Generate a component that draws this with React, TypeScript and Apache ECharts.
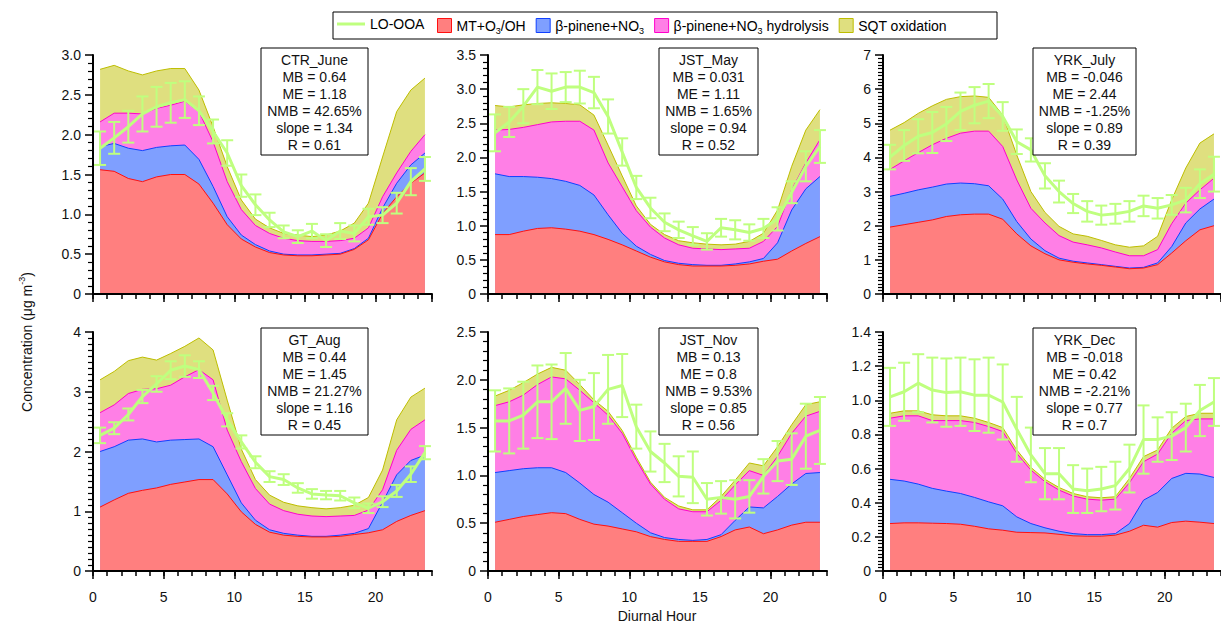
import React, { useEffect, useRef } from "react";
import * as echarts from "echarts";

const hours = [0.5, 1.5, 2.5, 3.5, 4.5, 5.5, 6.5, 7.5, 8.5, 9.5, 10.5, 11.5, 12.5, 13.5, 14.5, 15.5, 16.5, 17.5, 18.5, 19.5, 20.5, 21.5, 22.5, 23.5];

const seriesNames = ["LO-OOA", "MT+O3/OH", "β-pinene+NO3", "β-pinene+NO3 hydrolysis", "SQT oxidation"];

// CTR_June
const ctrJuneMT = [1.56, 1.54, 1.45, 1.41, 1.47, 1.5, 1.5, 1.38, 1.14, 0.87, 0.69, 0.59, 0.52, 0.49, 0.48, 0.48, 0.49, 0.5, 0.56, 0.68, 1.01, 1.22, 1.39, 1.52];
const ctrJuneNO3 = [0.29, 0.35, 0.38, 0.39, 0.37, 0.36, 0.37, 0.31, 0.21, 0.1, 0.05, 0.03, 0.02, 0.01, 0.01, 0.01, 0.01, 0.01, 0.01, 0.02, 0.07, 0.17, 0.23, 0.25];
const ctrJuneHyd = [0.31, 0.38, 0.44, 0.46, 0.49, 0.51, 0.55, 0.6, 0.56, 0.44, 0.32, 0.24, 0.22, 0.2, 0.18, 0.17, 0.16, 0.16, 0.13, 0.13, 0.14, 0.13, 0.17, 0.23];
const ctrJuneSQT = [0.66, 0.6, 0.53, 0.49, 0.47, 0.46, 0.41, 0.27, 0.19, 0.19, 0.12, 0.08, 0.07, 0.06, 0.07, 0.06, 0.08, 0.12, 0.19, 0.31, 0.5, 0.77, 0.77, 0.71];
const ctrJuneOOA = [1.83, 1.96, 2.1, 2.26, 2.35, 2.4, 2.44, 2.3, 2.04, 1.77, 1.36, 1.12, 0.93, 0.78, 0.72, 0.79, 0.67, 0.79, 0.76, 0.97, 0.99, 1.14, 1.41, 1.57];
const ctrJuneErr = [0.21, 0.2, 0.2, 0.22, 0.25, 0.25, 0.23, 0.18, 0.15, 0.16, 0.14, 0.13, 0.09, 0.08, 0.08, 0.09, 0.08, 0.1, 0.1, 0.1, 0.1, 0.13, 0.17, 0.15];

// JST_May
const jstMayMT = [0.87, 0.87, 0.92, 0.96, 0.97, 0.95, 0.92, 0.87, 0.8, 0.72, 0.63, 0.54, 0.47, 0.43, 0.41, 0.41, 0.41, 0.42, 0.44, 0.48, 0.51, 0.63, 0.74, 0.84];
const jstMayNO3 = [0.89, 0.85, 0.8, 0.75, 0.72, 0.7, 0.67, 0.58, 0.36, 0.17, 0.07, 0.04, 0.02, 0.02, 0.02, 0.01, 0.01, 0.02, 0.03, 0.04, 0.24, 0.6, 0.8, 0.88];
const jstMayHyd = [0.64, 0.69, 0.72, 0.77, 0.83, 0.88, 0.94, 0.95, 0.76, 0.68, 0.52, 0.4, 0.33, 0.27, 0.24, 0.24, 0.23, 0.22, 0.2, 0.25, 0.24, 0.3, 0.38, 0.54];
const jstMaySQT = [0.36, 0.33, 0.33, 0.31, 0.28, 0.26, 0.24, 0.22, 0.26, 0.16, 0.07, 0.04, 0.05, 0.06, 0.08, 0.07, 0.07, 0.07, 0.1, 0.12, 0.24, 0.34, 0.48, 0.44];
const jstMayOOA = [2.36, 2.52, 2.75, 3.03, 2.97, 3.03, 3.03, 2.95, 2.6, 2.08, 1.56, 1.26, 1.05, 0.94, 0.85, 0.77, 0.97, 0.94, 0.9, 0.96, 1.1, 1.49, 1.87, 2.16];
const jstMayErr = [0.27, 0.22, 0.25, 0.25, 0.26, 0.22, 0.24, 0.23, 0.25, 0.2, 0.17, 0.15, 0.13, 0.12, 0.13, 0.12, 0.13, 0.14, 0.12, 0.14, 0.17, 0.16, 0.22, 0.24];

// YRK_July
const yrkJulyMT = [1.96, 2.03, 2.1, 2.17, 2.27, 2.32, 2.34, 2.34, 2.19, 1.76, 1.41, 1.18, 1.0, 0.93, 0.88, 0.84, 0.79, 0.74, 0.76, 0.86, 1.2, 1.56, 1.88, 2.0];
const yrkJulyNO3 = [0.9, 0.92, 0.95, 0.96, 0.95, 0.93, 0.89, 0.83, 0.59, 0.36, 0.2, 0.09, 0.05, 0.03, 0.03, 0.02, 0.02, 0.02, 0.02, 0.05, 0.19, 0.52, 0.61, 0.78];
const yrkJulyHyd = [0.79, 0.95, 1.09, 1.24, 1.34, 1.46, 1.54, 1.6, 1.54, 1.22, 0.9, 0.81, 0.66, 0.56, 0.53, 0.49, 0.42, 0.36, 0.34, 0.39, 0.67, 0.58, 0.56, 0.61];
const yrkJulySQT = [1.15, 1.12, 1.15, 1.14, 1.14, 1.07, 1.03, 0.99, 0.92, 0.73, 0.49, 0.31, 0.27, 0.24, 0.25, 0.22, 0.21, 0.25, 0.29, 0.39, 0.7, 1.03, 1.37, 1.3];
const yrkJulyOOA = [4.01, 4.35, 4.62, 4.73, 4.98, 5.35, 5.53, 5.65, 5.2, 4.46, 4.22, 3.46, 3.0, 2.65, 2.42, 2.31, 2.35, 2.42, 2.58, 2.51, 2.61, 2.75, 3.23, 3.51];
const yrkJulyErr = [0.36, 0.45, 0.5, 0.6, 0.5, 0.55, 0.53, 0.5, 0.42, 0.36, 0.34, 0.37, 0.32, 0.28, 0.3, 0.28, 0.29, 0.3, 0.3, 0.3, 0.29, 0.36, 0.42, 0.51];

// GT_Aug
const gtAugMT = [1.07, 1.19, 1.3, 1.35, 1.39, 1.45, 1.49, 1.53, 1.53, 1.29, 0.99, 0.78, 0.65, 0.6, 0.58, 0.57, 0.57, 0.58, 0.61, 0.64, 0.69, 0.83, 0.93, 1.01];
const gtAugNO3 = [0.93, 0.89, 0.89, 0.86, 0.77, 0.74, 0.71, 0.68, 0.55, 0.32, 0.15, 0.07, 0.04, 0.03, 0.02, 0.01, 0.01, 0.02, 0.02, 0.07, 0.46, 0.78, 0.92, 0.93];
const gtAugHyd = [0.65, 0.7, 0.78, 0.83, 0.89, 0.92, 1.05, 1.16, 1.12, 0.75, 0.69, 0.53, 0.43, 0.38, 0.35, 0.34, 0.33, 0.32, 0.3, 0.31, 0.21, 0.41, 0.52, 0.59];
const gtAugSQT = [0.55, 0.56, 0.55, 0.54, 0.48, 0.53, 0.51, 0.53, 0.5, 0.5, 0.21, 0.15, 0.15, 0.14, 0.14, 0.14, 0.13, 0.14, 0.17, 0.21, 0.33, 0.51, 0.54, 0.53];
const gtAugOOA = [2.27, 2.39, 2.62, 2.92, 3.13, 3.36, 3.43, 3.37, 2.98, 2.53, 2.16, 1.82, 1.58, 1.53, 1.39, 1.29, 1.27, 1.26, 1.14, 1.05, 1.16, 1.34, 1.62, 1.98];
const gtAugErr = [0.13, 0.1, 0.1, 0.11, 0.13, 0.15, 0.18, 0.14, 0.12, 0.11, 0.11, 0.1, 0.09, 0.09, 0.08, 0.08, 0.07, 0.08, 0.09, 0.08, 0.09, 0.1, 0.13, 0.11];

// JST_Nov
const jstNovMT = [0.51, 0.54, 0.57, 0.59, 0.61, 0.6, 0.54, 0.49, 0.47, 0.44, 0.41, 0.36, 0.33, 0.31, 0.31, 0.31, 0.36, 0.43, 0.46, 0.39, 0.43, 0.48, 0.51, 0.51];
const jstNovNO3 = [0.52, 0.51, 0.5, 0.49, 0.47, 0.43, 0.38, 0.31, 0.25, 0.17, 0.09, 0.04, 0.02, 0.02, 0.01, 0.02, 0.02, 0.1, 0.21, 0.27, 0.35, 0.43, 0.51, 0.52];
const jstNovHyd = [0.7, 0.72, 0.77, 0.87, 0.95, 0.98, 0.97, 0.96, 0.91, 0.83, 0.66, 0.51, 0.4, 0.32, 0.3, 0.29, 0.36, 0.37, 0.38, 0.34, 0.42, 0.53, 0.6, 0.64];
const jstNovSQT = [0.1, 0.12, 0.13, 0.11, 0.1, 0.09, 0.06, 0.03, 0.04, 0.03, 0.03, 0.02, 0.02, 0.03, 0.02, 0.02, 0.04, 0.05, 0.08, 0.1, 0.1, 0.09, 0.12, 0.1];
const jstNovOOA = [1.57, 1.57, 1.63, 1.77, 1.77, 1.91, 1.68, 1.72, 1.9, 1.94, 1.51, 1.25, 1.13, 0.99, 0.98, 0.75, 0.77, 0.75, 0.78, 0.99, 1.15, 1.17, 1.41, 1.47];
const jstNovErr = [0.32, 0.34, 0.35, 0.38, 0.39, 0.37, 0.32, 0.35, 0.36, 0.33, 0.23, 0.21, 0.2, 0.21, 0.27, 0.17, 0.17, 0.2, 0.17, 0.18, 0.21, 0.27, 0.34, 0.35];

// YRK_Dec
const yrkDecMT = [0.278, 0.282, 0.282, 0.28, 0.278, 0.274, 0.262, 0.247, 0.239, 0.227, 0.225, 0.223, 0.215, 0.206, 0.204, 0.204, 0.21, 0.233, 0.268, 0.257, 0.284, 0.292, 0.286, 0.278];
const yrkDecNO3 = [0.259, 0.245, 0.227, 0.204, 0.19, 0.18, 0.169, 0.158, 0.143, 0.09, 0.053, 0.03, 0.018, 0.013, 0.009, 0.009, 0.009, 0.045, 0.147, 0.203, 0.258, 0.28, 0.282, 0.27];
const yrkDecHyd = [0.358, 0.382, 0.4, 0.397, 0.413, 0.427, 0.439, 0.441, 0.435, 0.372, 0.313, 0.27, 0.241, 0.22, 0.208, 0.202, 0.202, 0.239, 0.225, 0.225, 0.265, 0.309, 0.323, 0.343];
const yrkDecSQT = [0.029, 0.029, 0.029, 0.034, 0.028, 0.028, 0.025, 0.024, 0.023, 0.02, 0.016, 0.014, 0.015, 0.015, 0.014, 0.014, 0.014, 0.025, 0.03, 0.024, 0.029, 0.024, 0.033, 0.033];
const yrkDecOOA = [1.02, 1.05, 1.1, 1.06, 1.045, 1.05, 1.03, 1.03, 0.99, 0.83, 0.68, 0.57, 0.57, 0.48, 0.47, 0.48, 0.5, 0.6, 0.77, 0.77, 0.79, 0.84, 0.94, 0.99];
const yrkDecErr = [0.17, 0.17, 0.17, 0.19, 0.2, 0.2, 0.21, 0.22, 0.22, 0.19, 0.16, 0.15, 0.15, 0.14, 0.13, 0.13, 0.14, 0.14, 0.2, 0.13, 0.14, 0.14, 0.15, 0.14];

const statsCTR = ["CTR_June", "MB = 0.64", "ME = 1.18", "NMB = 42.65%", "slope = 1.34", "R = 0.61"];
const statsJSTMay = ["JST_May", "MB = 0.031", "ME = 1.11", "NMB = 1.65%", "slope = 0.94", "R = 0.52"];
const statsYRKJuly = ["YRK_July", "MB = -0.046", "ME = 2.44", "NMB = -1.25%", "slope = 0.89", "R = 0.39"];
const statsGT = ["GT_Aug", "MB = 0.44", "ME = 1.45", "NMB = 21.27%", "slope = 1.16", "R = 0.45"];
const statsJSTNov = ["JST_Nov", "MB = 0.13", "ME = 0.8", "NMB = 9.53%", "slope = 0.85", "R = 0.56"];
const statsYRKDec = ["YRK_Dec", "MB = -0.018", "ME = 0.42", "NMB = -2.21%", "slope = 0.77", "R = 0.7"];

// y-axis: max, interval, minor splits, decimals of tick labels
const yMax = [3, 3.5, 7, 4, 2.5, 1.4];
const yInterval = [0.5, 0.5, 1, 1, 0.5, 0.2];
const yMinorSplit = [5, 5, 10, 10, 5, 10];
const yDecimals = [1, 1, 0, 0, 1, 1];

const panels = [
  { stats: statsCTR, mt: ctrJuneMT, no3: ctrJuneNO3, hyd: ctrJuneHyd, sqt: ctrJuneSQT, ooa: ctrJuneOOA, err: ctrJuneErr },
  { stats: statsJSTMay, mt: jstMayMT, no3: jstMayNO3, hyd: jstMayHyd, sqt: jstMaySQT, ooa: jstMayOOA, err: jstMayErr },
  { stats: statsYRKJuly, mt: yrkJulyMT, no3: yrkJulyNO3, hyd: yrkJulyHyd, sqt: yrkJulySQT, ooa: yrkJulyOOA, err: yrkJulyErr },
  { stats: statsGT, mt: gtAugMT, no3: gtAugNO3, hyd: gtAugHyd, sqt: gtAugSQT, ooa: gtAugOOA, err: gtAugErr },
  { stats: statsJSTNov, mt: jstNovMT, no3: jstNovNO3, hyd: jstNovHyd, sqt: jstNovSQT, ooa: jstNovOOA, err: jstNovErr },
  { stats: statsYRKDec, mt: yrkDecMT, no3: yrkDecNO3, hyd: yrkDecHyd, sqt: yrkDecSQT, ooa: yrkDecOOA, err: yrkDecErr },
];

const FONT = '"Liberation Sans", Arial, Helvetica, sans-serif';
const TXT = "#111";
const OOA_COLOR = "#BFFF7F";
const LAYERS = [
  { key: "mt", name: seriesNames[1], fill: "#FF7F7F", line: "#FF1010" },
  { key: "no3", name: seriesNames[2], fill: "#7F9FFF", line: "#1040FF" },
  { key: "hyd", name: seriesNames[3], fill: "#FF7FE6", line: "#FF00CC" },
  { key: "sqt", name: seriesNames[4], fill: "#DFDF7F", line: "#BDBD00" },
];

const colLeft = [93, 488, 883];
const colBoxLeft = [261, 659, 1033];
const colBoxWidth = [107, 99, 103];
const rowTop = [55, 332];
const rowHeight = [239, 239];
const rowBoxTop = [48, 328];
const GRID_W = 339;

function buildOption() {
  const grid: any[] = [];
  const xAxis: any[] = [];
  const yAxis: any[] = [];
  const series: any[] = [];
  const graphic: any[] = [];

  panels.forEach((p: any, i: number) => {
    const row = Math.floor(i / 3);
    const col = i % 3;
    grid.push({ left: colLeft[col], top: rowTop[row], width: GRID_W, height: rowHeight[row], containLabel: false });
    xAxis.push({
      type: "value", gridIndex: i, min: 0, max: 24, interval: 5, position: "bottom",
      axisLine: { show: true, onZero: false, lineStyle: { color: "#000", width: 2 } },
      axisTick: { show: true, length: 8, lineStyle: { color: "#000", width: 1.5 } },
      axisLabel: { show: row === 1, margin: 19, fontSize: 14, color: TXT, fontFamily: FONT, showMaxLabel: false },
      splitLine: { show: false },
      z: 10,
    });
    xAxis.push({
      type: "value", gridIndex: i, min: 0, max: 24, interval: 1, position: "bottom",
      axisLine: { show: false, onZero: false },
      axisTick: { show: true, length: 5, lineStyle: { color: "#000", width: 1.5 } },
      axisLabel: { show: false },
      splitLine: { show: false },
      z: 10,
    });
    const dec = yDecimals[i];
    yAxis.push({
      type: "value", gridIndex: i, min: 0, max: yMax[i], interval: yInterval[i],
      axisLine: { show: true, onZero: false, lineStyle: { color: "#000", width: 2 } },
      axisTick: { show: true, length: 8, lineStyle: { color: "#000", width: 1.5 } },
      minorTick: { show: true, splitNumber: yMinorSplit[i], length: 5, lineStyle: { color: "#000", width: 1.2 } },
      axisLabel: {
        margin: 12, fontSize: 14, color: TXT, fontFamily: FONT,
        formatter: (v: number) => (Math.abs(v) < 1e-9 ? "0" : v.toFixed(dec)),
      },
      splitLine: { show: false },
      minorSplitLine: { show: false },
      z: 10,
    });

    // cumulative tops of the stacked layers
    const cum: number[][] = [];
    LAYERS.forEach((L, li) => {
      cum.push(hours.map((_, k) => (li > 0 ? cum[li - 1][k] : 0) + p[L.key][k]));
    });
    // draw the highest layer first, opaque fills, lower layers drawn on top
    for (let li = LAYERS.length - 1; li >= 0; li--) {
      const L = LAYERS[li];
      series.push({
        type: "line", name: L.name, xAxisIndex: 2 * i, yAxisIndex: i,
        data: hours.map((h, k) => [h, cum[li][k]]),
        symbol: "none", silent: true, z: 2,
        lineStyle: { color: L.line, width: 1 },
        itemStyle: { color: L.fill },
        areaStyle: { color: L.fill, opacity: 1, origin: "start" },
        emphasis: { disabled: true },
      });
    }

    series.push({
      type: "custom", name: seriesNames[0], xAxisIndex: 2 * i, yAxisIndex: i, z: 4, silent: true,
      data: hours.map((h, k) => [h, p.ooa[k] - p.err[k], p.ooa[k] + p.err[k]]),
      encode: { x: 0, y: [1, 2] },
      renderItem: (params: any, api: any) => {
        const x = api.value(0);
        const top = api.coord([x, api.value(2)]);
        const bot = api.coord([x, api.value(1)]);
        const w = 6;
        const st = { stroke: OOA_COLOR, lineWidth: 2 };
        return {
          type: "group",
          children: [
            { type: "line", shape: { x1: top[0], y1: top[1], x2: bot[0], y2: bot[1] }, style: st },
            { type: "line", shape: { x1: top[0] - w, y1: top[1], x2: top[0] + w, y2: top[1] }, style: st },
            { type: "line", shape: { x1: bot[0] - w, y1: bot[1], x2: bot[0] + w, y2: bot[1] }, style: st },
          ],
        };
      },
    });

    series.push({
      type: "line", name: seriesNames[0], xAxisIndex: 2 * i, yAxisIndex: i, z: 5,
      data: hours.map((h, k) => [h, p.ooa[k]]),
      symbol: "none", silent: true,
      lineStyle: { color: OOA_COLOR, width: 3 },
      itemStyle: { color: OOA_COLOR },
      emphasis: { disabled: true },
    });

    const bx = colBoxLeft[col];
    const bw = colBoxWidth[col];
    const by = rowBoxTop[row];
    graphic.push({
      type: "group", z: 100,
      children: [
        { type: "rect", shape: { x: bx, y: by, width: bw, height: 107 }, style: { fill: "#fff", stroke: "#000", lineWidth: 1 }, z: 100 },
        {
          type: "text", x: bx + bw / 2, y: by + 3, z: 101,
          style: { text: p.stats.join("\n"), align: "center", verticalAlign: "top", fontSize: 14, lineHeight: 17, fontFamily: FONT, fill: TXT },
        },
      ],
    });
  });

  graphic.push({ type: "rect", shape: { x: 333, y: 12, width: 664, height: 27 }, style: { fill: "none", stroke: "#000", lineWidth: 1 }, z: 0 });
  graphic.push({
    type: "text", x: 27, y: 342, rotation: Math.PI / 2, z: 10,
    style: {
      text: "Concentration (μg m{sup|-3})", align: "center", verticalAlign: "middle",
      fontSize: 14, fontFamily: FONT, fill: TXT,
      rich: { sup: { fontSize: 9, lineHeight: 9, padding: [0, 0, 10, 0], fontFamily: FONT, fill: TXT } },
    },
  });
  graphic.push({
    type: "text", x: 657, y: 616, z: 10,
    style: { text: "Diurnal Hour", align: "center", verticalAlign: "middle", fontSize: 14, fontFamily: FONT, fill: TXT },
  });

  const legendText = {
    fontSize: 14, fontFamily: FONT, color: "#000", lineHeight: 16,
    rich: { s: { fontSize: 9, lineHeight: 9, padding: [10, 0, 0, 0], fontFamily: FONT, color: "#000" } },
  };
  const fmt = (name: string) => name.replace(/O3/g, "O{s|3}");

  return {
    animation: false,
    backgroundColor: "#fff",
    grid, xAxis, yAxis, series, graphic,
    legend: [
      {
        data: [{ name: seriesNames[0], icon: "rect", itemStyle: { color: OOA_COLOR, borderWidth: 0 } }],
        left: 337, top: 16, padding: 0, itemWidth: 28, itemHeight: 3, selectedMode: false,
        textStyle: legendText, formatter: fmt,
      },
      {
        data: LAYERS.map((L) => ({ name: L.name, icon: "rect", itemStyle: { color: L.fill, borderColor: L.line, borderWidth: 1 } })),
        left: 437, top: 16, padding: 0, itemWidth: 14, itemHeight: 14, itemGap: 10, selectedMode: false,
        textStyle: legendText, formatter: fmt,
      },
    ],
  };
}

export default function App() {
  const ref = useRef<HTMLDivElement>(null);
  useEffect(() => {
    const chart = echarts.init(ref.current as HTMLDivElement, null, { renderer: "svg" });
    chart.setOption(buildOption() as any);
    return () => chart.dispose();
  }, []);
  return <div ref={ref} style={{ position: "absolute", left: 0, top: 0, width: 1221, height: 624, background: "#fff" }} />;
}
